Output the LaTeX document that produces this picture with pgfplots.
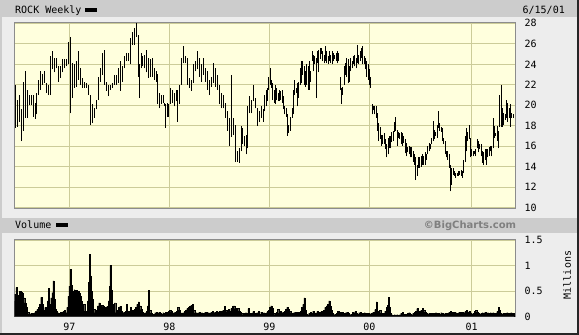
\documentclass[border=0pt]{standalone}
\usepackage{pgfplots}
\pgfplotsset{compat=1.18}
\usepackage{pgfplotstable}
\usepackage{fontspec}
\setmainfont{DejaVu Sans Mono}
\newfontfamily\bcfont{DejaVu Sans}
\definecolor{figbg}{HTML}{EDEDED}
\definecolor{band}{HTML}{CCCCCC}
\definecolor{plotbg}{HTML}{FFFFDD}
\definecolor{gridc}{HTML}{CCCC99}

\pgfplotstableread{
x H L
15.3 22.0 17.8
17.3 20.5 17.9
19.3 21.0 18.4
21.3 19.6 16.5
23.3 22.3 17.5
25.3 23.3 18.8
27.3 21.5 18.8
29.3 21.0 20.0
31.3 21.0 20.0
33.3 21.0 18.9
35.3 20.2 18.7
36.7 21.2 19.1
38.7 22.5 21.0
40.7 23.3 21.5
42.7 23.1 22.0
44.7 23.3 22.2
46.7 22.2 21.2
48.7 22.0 21.0
50.7 24.8 21.0
52.7 25.3 23.5
54.7 24.6 23.2
56.7 24.6 23.6
58.7 23.8 22.3
60.7 23.8 22.7
62.7 24.5 23.2
64.7 24.5 23.6
66.7 24.5 23.8
68.7 26.2 24.0
70.0 26.7 19.2
72.0 24.1 20.7
74.0 24.0 21.7
76.0 24.3 21.8
78.0 25.3 22.5
80.0 23.6 22.0
82.0 22.7 21.7
84.0 22.3 21.7
86.0 22.2 21.7
88.0 22.0 21.0
90.0 21.0 18.1
92.0 20.1 18.3
94.0 19.7 18.8
96.0 20.5 19.6
98.0 22.8 20.5
100.0 23.6 22.3
102.0 25.1 23.0
104.0 25.4 22.0
106.0 22.3 21.4
108.0 22.0 20.9
110.0 22.0 21.5
112.0 22.2 21.7
114.0 23.0 22.0
116.0 23.0 22.0
118.0 23.6 22.2
120.0 24.3 21.4
122.0 23.8 22.3
124.0 24.8 23.6
126.0 25.1 24.3
128.0 25.1 24.3
130.0 26.6 24.0
132.0 27.2 25.9
134.0 27.5 25.9
136.0 28.0 26.7
138.0 26.9 22.8
139.3 24.0 20.7
141.0 25.1 23.6
142.3 24.8 23.8
144.3 24.9 23.6
146.3 25.4 23.2
148.3 24.6 22.7
150.3 24.5 22.8
152.3 24.6 22.8
154.3 23.6 22.5
156.3 23.3 22.3
157.7 23.1 20.1
159.0 21.2 19.7
161.0 21.0 20.1
163.0 21.0 20.2
164.3 20.2 19.9
165.7 20.1 17.8
167.0 20.2 18.9
168.3 20.1 18.9
170.3 21.7 20.1
172.3 21.5 20.2
174.3 21.2 19.9
176.3 21.5 20.4
177.7 21.5 18.4
179.7 22.0 20.1
181.7 24.6 22.0
183.7 25.8 24.1
185.7 24.8 24.1
187.0 24.6 22.0
189.0 22.7 21.7
191.0 22.5 21.4
193.0 24.0 22.2
195.0 24.3 23.3
197.0 25.3 23.5
199.0 24.6 22.8
201.0 24.0 22.3
203.0 24.6 23.0
205.0 23.6 22.3
207.0 23.3 21.5
209.0 22.5 21.0
211.0 22.8 21.8
213.0 24.1 22.2
215.0 23.6 21.8
217.0 23.0 21.5
219.0 22.0 20.1
221.0 21.2 19.7
223.0 21.0 19.7
225.0 20.2 18.8
227.0 19.4 17.5
229.0 18.8 16.0
231.0 23.0 16.9
233.0 18.8 17.1
235.0 18.1 14.5
237.0 15.5 14.5
239.0 15.8 14.4
241.0 18.0 15.5
242.3 17.8 16.2
244.3 17.0 16.0
246.3 17.1 15.2
247.7 19.9 15.8
249.7 20.9 19.2
251.7 20.5 19.2
253.7 22.0 20.4
255.0 20.7 19.7
257.0 19.7 18.0
259.0 19.4 18.4
261.0 19.9 18.8
263.0 19.6 18.4
264.3 21.0 19.4
266.0 21.5 19.9
267.3 21.7 20.4
268.7 22.8 21.5
270.0 23.6 22.0
271.3 22.5 21.7
272.7 22.2 20.5
274.0 21.5 20.2
275.3 22.0 20.1
276.7 21.7 20.5
278.0 21.2 20.4
279.3 21.5 20.4
280.7 21.4 20.5
282.0 21.5 20.2
283.3 20.9 19.6
284.7 19.9 19.1
286.0 19.7 18.9
287.3 19.1 17.0
288.7 18.1 17.3
290.0 18.9 17.5
292.0 19.7 18.8
293.3 21.5 19.1
294.7 22.5 21.0
296.0 21.7 21.2
297.3 22.2 19.9
298.7 22.3 20.7
300.0 23.6 22.0
301.3 24.3 22.2
302.7 24.3 23.0
304.0 23.8 22.0
305.3 23.3 21.8
306.7 24.0 22.0
308.0 23.8 21.5
309.3 24.3 21.5
310.7 23.3 22.3
312.0 25.3 24.3
313.3 24.9 23.3
314.7 24.8 24.0
316.0 24.6 20.7
317.3 25.3 24.1
318.7 25.4 23.2
320.0 25.6 24.5
321.3 25.6 25.0
322.7 25.3 24.3
324.0 24.9 24.1
325.3 25.8 24.3
326.7 25.3 24.1
328.0 24.8 24.0
329.3 25.3 24.3
330.7 24.9 24.1
332.0 25.3 24.0
333.3 25.1 24.3
334.7 24.9 24.5
336.0 25.1 24.3
337.3 25.3 24.1
338.7 25.1 24.3
340.0 22.8 21.5
341.3 21.7 20.1
342.7 21.8 21.0
344.0 23.8 22.0
345.3 24.1 23.0
346.7 24.6 22.8
348.0 24.5 22.2
349.3 23.8 22.3
350.7 24.6 23.3
352.0 24.3 23.6
353.3 24.8 24.0
354.7 24.9 23.8
356.0 24.6 23.6
357.3 25.9 24.1
358.7 24.9 24.0
360.0 25.3 24.3
361.3 25.6 24.6
362.7 25.8 24.0
364.0 24.8 24.0
365.3 24.6 23.5
366.7 24.3 22.8
368.0 24.0 22.5
369.3 23.5 22.0
370.7 22.8 21.7
372.0 20.1 19.1
373.3 19.9 19.5
374.7 19.9 19.1
376.0 19.9 18.8
377.3 19.2 17.5
378.7 18.3 16.5
380.0 17.9 16.7
381.3 17.1 16.0
382.7 17.1 16.2
384.0 17.3 16.2
385.3 16.7 15.7
386.7 16.2 14.9
388.0 16.8 15.2
389.3 17.0 15.8
390.3 17.0 15.8
391.7 17.4 16.4
393.0 17.5 16.5
394.3 18.4 17.4
395.7 18.9 17.5
397.0 17.6 16.0
398.3 17.4 16.8
399.7 17.3 16.7
401.0 17.4 16.2
402.3 17.3 16.0
403.7 17.0 16.3
405.0 16.7 15.3
406.3 16.3 15.0
407.7 15.9 15.4
409.0 16.0 15.2
410.3 15.9 14.9
411.7 15.9 14.9
413.0 15.5 14.5
414.3 15.2 14.2
415.7 14.9 12.7
417.0 14.2 13.1
418.3 14.9 13.9
419.7 14.9 13.9
421.0 15.0 14.0
422.3 15.2 14.2
423.7 15.0 14.2
425.0 15.4 14.2
426.3 15.2 14.7
427.7 16.0 15.2
429.0 16.3 15.5
430.3 16.2 15.7
431.7 16.8 16.2
433.0 18.5 16.5
434.3 17.6 16.7
435.7 17.4 17.0
437.0 18.1 16.8
438.3 19.4 17.8
439.7 18.3 17.5
441.0 17.9 17.4
442.3 17.8 16.5
443.7 16.8 16.2
445.0 16.5 15.2
446.3 15.5 14.9
447.7 15.5 14.7
449.0 15.2 13.9
450.3 14.2 11.6
451.7 13.9 12.2
453.0 13.9 13.2
454.3 13.6 13.1
455.7 13.4 12.9
457.0 13.4 13.1
458.3 13.6 13.1
459.7 13.6 13.2
461.0 13.7 13.1
462.3 13.6 12.9
463.7 14.7 13.4
465.0 17.0 14.5
466.3 17.8 15.5
467.7 17.4 16.5
469.0 18.1 16.7
470.3 16.8 14.9
471.7 15.7 15.0
473.0 15.5 15.0
474.3 15.5 15.2
475.7 15.7 15.0
477.0 16.7 15.8
478.3 16.5 15.4
479.7 16.2 15.7
481.0 16.2 15.0
482.3 15.5 14.4
483.7 15.4 14.2
485.0 15.7 14.7
486.3 15.7 14.2
487.7 15.7 14.9
489.0 15.9 15.0
490.3 16.0 15.5
491.7 16.0 15.0
493.0 18.8 15.8
494.3 18.0 16.8
495.7 17.3 17.0
497.0 18.0 16.5
498.3 17.5 15.8
499.7 21.0 17.9
501.0 22.0 17.9
502.3 19.7 17.9
503.7 19.2 18.1
505.0 19.1 18.6
506.3 20.5 18.8
507.7 20.2 18.4
509.0 19.7 18.8
510.3 20.1 17.9
511.7 19.2 18.8
513.0 19.1 18.8
}\pricedata

\pgfplotstableread{
x V
14.0 0.31
15.3 0.44
16.3 0.57
17.3 0.42
18.7 0.34
20.0 0.50
21.3 0.48
22.7 0.46
24.0 0.37
25.3 0.27
26.7 0.18
28.0 0.09
29.3 0.05
30.7 0.06
32.0 0.07
33.3 0.05
34.7 0.08
36.0 0.11
37.3 0.14
38.7 0.18
40.0 0.24
41.3 0.38
42.7 0.24
44.0 0.13
45.3 0.18
46.7 0.16
48.0 0.31
49.0 0.55
50.0 0.24
51.3 0.37
52.3 0.47
53.3 0.70
54.3 0.34
55.3 0.14
56.7 0.11
58.0 0.08
59.3 0.07
60.7 0.09
62.0 0.09
63.3 0.10
64.7 0.13
66.0 0.08
67.3 0.18
68.3 0.40
69.3 0.60
70.3 0.93
71.3 0.61
72.3 0.50
73.3 0.44
74.3 0.53
75.3 0.47
76.3 0.52
77.3 0.47
78.3 0.50
79.3 0.46
80.3 0.40
81.3 0.31
82.7 0.14
84.0 0.24
85.3 0.11
86.7 0.11
88.0 0.31
88.7 0.67
89.7 1.22
90.7 0.80
91.7 0.50
92.7 0.34
94.0 0.14
95.3 0.08
96.7 0.13
98.0 0.21
99.3 0.27
100.7 0.18
102.0 0.22
103.3 0.20
104.7 0.11
106.0 0.18
107.3 0.20
108.7 0.31
109.3 0.60
110.3 1.00
111.3 0.53
112.3 0.24
113.7 0.08
115.0 0.27
116.3 0.08
117.7 0.13
119.0 0.18
120.3 0.20
121.7 0.11
123.0 0.08
124.3 0.09
125.7 0.11
127.0 0.24
128.0 0.11
129.3 0.09
130.7 0.18
132.0 0.13
133.3 0.11
134.7 0.14
136.0 0.18
137.3 0.24
138.7 0.29
140.0 0.21
141.3 0.14
142.7 0.09
144.0 0.07
145.3 0.08
146.7 0.11
148.0 0.21
149.0 0.52
150.0 0.13
151.3 0.07
152.7 0.05
154.0 0.05
155.3 0.08
156.7 0.09
158.0 0.07
159.3 0.09
160.7 0.07
162.0 0.05
163.3 0.08
164.7 0.07
166.0 0.09
167.3 0.09
168.7 0.10
170.0 0.13
171.3 0.10
172.7 0.07
174.0 0.08
175.3 0.09
176.7 0.11
178.0 0.18
179.3 0.13
180.7 0.08
182.0 0.07
183.3 0.08
184.7 0.10
186.0 0.13
187.3 0.16
188.7 0.18
190.0 0.20
191.3 0.22
192.7 0.24
194.0 0.13
195.3 0.07
196.7 0.08
198.0 0.07
199.3 0.09
200.7 0.07
202.0 0.08
203.3 0.05
204.7 0.08
206.0 0.09
207.3 0.07
208.7 0.08
210.0 0.07
211.3 0.09
212.7 0.10
214.0 0.08
215.3 0.09
216.7 0.10
218.0 0.09
219.3 0.10
220.7 0.08
222.0 0.11
223.3 0.13
224.7 0.20
226.0 0.13
227.3 0.10
228.7 0.14
230.0 0.11
231.3 0.16
232.7 0.20
234.0 0.21
235.3 0.16
236.7 0.13
238.0 0.16
239.3 0.11
240.7 0.09
242.0 0.07
243.3 0.04
244.7 0.07
246.0 0.08
247.3 0.07
248.3 0.16
249.3 0.07
250.7 0.05
252.0 0.07
253.3 0.10
254.7 0.05
256.0 0.07
257.3 0.08
258.7 0.10
260.0 0.05
261.3 0.09
262.7 0.07
264.0 0.08
265.3 0.07
266.7 0.08
267.3 0.11
268.7 0.13
270.0 0.18
271.3 0.21
272.7 0.16
274.0 0.07
275.3 0.04
276.7 0.09
278.0 0.14
279.3 0.07
280.7 0.11
282.0 0.08
283.3 0.09
284.7 0.10
286.0 0.14
287.3 0.18
288.7 0.14
290.0 0.10
291.3 0.08
292.7 0.05
294.0 0.08
295.3 0.09
296.7 0.07
298.0 0.09
299.3 0.08
300.7 0.11
302.0 0.18
303.3 0.24
304.3 0.37
305.3 0.13
306.7 0.05
308.0 0.04
309.3 0.07
310.7 0.09
312.0 0.07
313.3 0.11
314.7 0.08
316.0 0.07
317.3 0.10
318.7 0.07
320.0 0.09
321.3 0.10
322.7 0.11
324.0 0.13
325.3 0.18
326.7 0.21
328.0 0.24
329.3 0.31
330.3 0.21
331.3 0.13
332.7 0.07
334.0 0.04
335.3 0.05
336.7 0.07
338.0 0.10
339.3 0.09
340.7 0.08
342.0 0.09
343.3 0.07
344.7 0.05
346.0 0.08
347.3 0.09
348.7 0.07
350.0 0.04
351.3 0.05
352.7 0.09
354.0 0.08
355.3 0.10
356.7 0.07
358.0 0.05
359.3 0.08
360.7 0.09
362.0 0.07
363.3 0.05
364.7 0.08
366.0 0.07
367.3 0.05
368.7 0.07
370.0 0.05
371.3 0.07
372.7 0.08
374.0 0.09
375.3 0.14
376.7 0.29
377.7 0.11
378.7 0.08
380.0 0.13
381.3 0.07
382.7 0.04
384.0 0.07
385.3 0.11
386.7 0.18
387.7 0.22
388.3 0.38
389.3 0.18
390.7 0.07
392.0 0.04
393.3 0.03
394.7 0.04
396.0 0.03
397.3 0.04
398.7 0.03
400.0 0.04
401.3 0.07
402.7 0.09
404.0 0.05
405.3 0.04
406.7 0.05
408.0 0.07
409.3 0.08
410.7 0.05
412.0 0.04
413.3 0.07
414.7 0.09
416.0 0.11
417.3 0.16
418.7 0.09
420.0 0.11
421.3 0.13
422.7 0.16
424.0 0.13
425.3 0.09
426.7 0.07
428.0 0.05
429.3 0.07
430.7 0.05
432.0 0.07
433.3 0.05
434.7 0.07
436.0 0.08
437.3 0.05
438.7 0.07
440.0 0.05
441.3 0.08
442.7 0.07
444.0 0.05
445.3 0.07
446.7 0.05
448.0 0.07
449.3 0.09
450.7 0.10
452.0 0.09
453.3 0.08
454.7 0.09
456.0 0.08
457.3 0.07
458.7 0.08
460.0 0.09
461.3 0.07
462.7 0.09
464.0 0.08
465.3 0.10
466.7 0.13
468.0 0.09
469.3 0.10
470.7 0.08
472.0 0.05
473.3 0.07
474.7 0.10
476.0 0.13
477.3 0.09
478.7 0.07
480.0 0.05
481.3 0.07
482.7 0.08
484.0 0.07
485.3 0.09
486.7 0.07
488.0 0.08
489.3 0.07
490.7 0.08
492.0 0.07
493.3 0.08
494.7 0.05
496.0 0.07
497.3 0.10
498.7 0.18
499.7 0.13
500.7 0.07
502.0 0.05
503.3 0.07
504.7 0.05
506.0 0.07
507.3 0.08
508.7 0.05
510.0 0.07
511.3 0.08
512.7 0.07
514.0 0.07
}\voldata

\begin{document}
\begin{tikzpicture}[x=1pt,y=1pt,font=\fontsize{10}{12}\selectfont]
\useasboundingbox (0,0) rectangle (579,335);
\fill[figbg] (0,0) rectangle (579,335);
\fill[black!20] (0,0) rectangle (1.5,335);
\fill[band] (1.5,318.3) rectangle (577.3,335);
\fill[band] (1.5,102.3) rectangle (577.3,116.7);
\fill[black!85] (577.3,0) rectangle (579,335);
\fill[black!85] (0,0) rectangle (579,2.0);

\pgfplotsset{common/.style={
  scale only axis, width=500.6pt, xmin=14.7, xmax=515.3,
  axis background/.style={fill=plotbg},
  grid=major, major grid style={gridc, line width=0.8pt},
  major tick length=0pt,
  xtick={69.3,169.3,269.3,369.3,471.7},
  axis line style={draw=black!45, line width=0.8pt},
  yticklabel pos=right,
  tick label style={font=\fontsize{10}{12}\selectfont},
  yticklabel style={anchor=west, inner sep=0pt, xshift=9pt},
  axis on top=false,
}}

\begin{axis}[common, at={(14.7pt,126.8pt)}, anchor=south west,
  height=185.9pt, ymin=9.95, ymax=28.1,
  ytick={10,12,14,16,18,20,22,24,26,28},
  yticklabels={10,12,14,16,18,20,22,24,26,28},
  xticklabels={}]
\addplot[draw=none, mark=none,
  error bars/.cd, y dir=plus, y explicit, error mark=none,
  error bar style={draw=black, line width=0.9pt}]
  table[x=x, y=L, y error expr=\thisrow{H}-\thisrow{L}] {\pricedata};
\end{axis}

\begin{axis}[common, at={(14.7pt,18.3pt)}, anchor=south west,
  height=77.7pt, ymin=0, ymax=1.52,
  ytick={0,0.5,1,1.5}, yticklabels={0,0.5,1,1.5},
  xticklabels={97,98,99,00,01},
  xticklabel style={anchor=north, inner sep=0pt, yshift=-6pt}]
\addplot[fill=black, draw=black, line width=0.2pt, const plot mark mid]
  table[x=x, y=V] {\voldata} \closedcycle;
\end{axis}

\node[anchor=base west, inner sep=0pt] at (15,321.7) {ROCK Weekly};
\fill[black] (85,323.3) rectangle (97,326.7);
\node[anchor=base east, inner sep=0pt] at (565,321.7) {6/15/01};
\node[anchor=base west, inner sep=0pt] at (15,106) {Volume};
\fill[black] (55.7,108.3) rectangle (67.7,111.7);
\node[inner sep=0pt, text=black!50, font=\bcfont\bfseries\fontsize{10}{12}\selectfont] at (470,109.5) {©BigCharts.com};
\node[rotate=90, inner sep=0pt] at (567,60) {Millions};
\end{tikzpicture}
\end{document}
